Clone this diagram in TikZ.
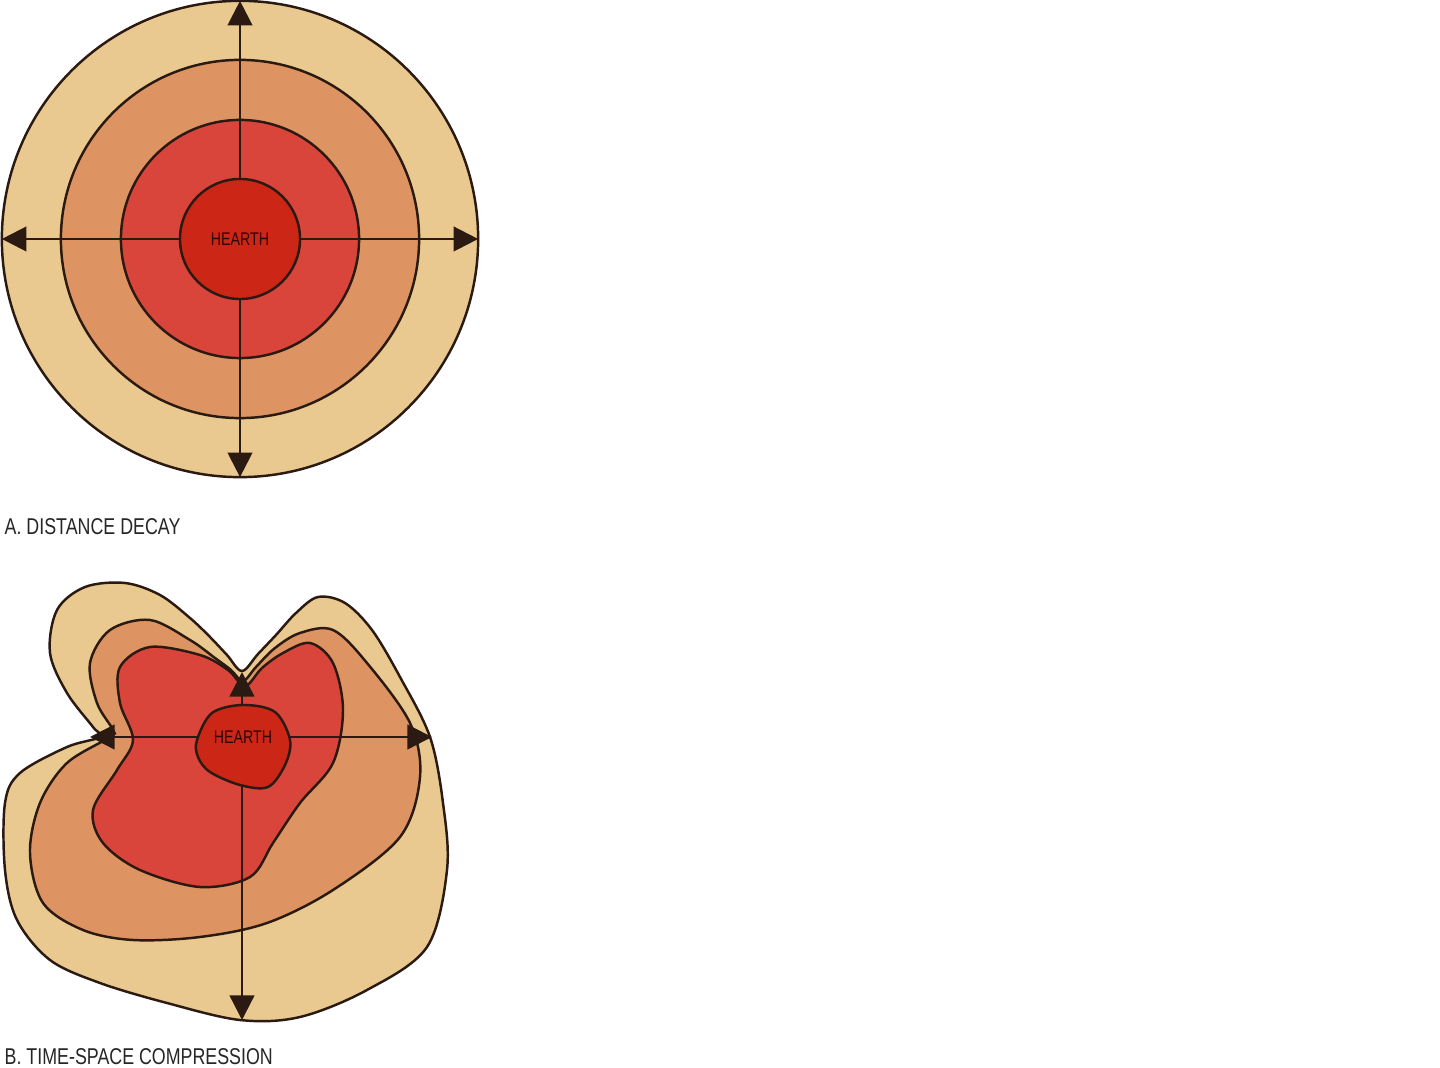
\documentclass[tikz,border=0pt]{standalone}
\usepackage{fontspec}
\newfontfamily\capfont[FakeStretch=0.78]{Liberation Sans}
\usetikzlibrary{arrows.meta}
\definecolor{zoneA}{HTML}{E9C98F}
\definecolor{zoneB}{HTML}{DE9462}
\definecolor{zoneC}{HTML}{D9443B}
\definecolor{hearthcol}{HTML}{CC2716}
\definecolor{inkcol}{HTML}{2A1A12}
\begin{document}
\begin{tikzpicture}[x=0.01cm,y=-0.01cm,
  ring/.style={circle,draw=inkcol,line width=0.7pt,inner sep=0pt,outer sep=0pt},
  zone/.style={draw=inkcol,line width=0.7pt,smooth cycle,tension=0.55},
  arr/.style={draw=inkcol,line width=0.7pt,-{Triangle[length=7pt,width=7pt]}},
  caption/.style={anchor=base west,inner sep=0pt,text=black!85,font=\capfont\fontsize{6.5}{7}\selectfont},
  htext/.style={inner sep=0pt,text=black!80!red,font=\capfont\fontsize{5.2}{6}\selectfont}]
\useasboundingbox[fill=white] (0,0) rectangle (1440,1068);

% A. distance decay
\coordinate (a0) at (240,239);
\node[ring,fill=zoneA,minimum size=4.76cm] (r3) at (a0) {};
\node[ring,fill=zoneB,minimum size=3.58cm] (r2) at (a0) {};
\node[ring,fill=zoneC,minimum size=2.38cm] (r1) at (a0) {};
\draw[arr] (a0) -- (r3.north);
\draw[arr] (a0) -- (r3.south);
\draw[arr] (a0) -- (r3.west);
\draw[arr] (a0) -- (r3.east);
\node[ring,fill=hearthcol,minimum size=1.2cm] (h1) at (a0) {};
\node[htext] (t1) at (a0) {HEARTH};
\node[caption] (capA) at (4,535) {A. DISTANCE DECAY};

% B. time-space compression
\fill[zoneA,zone] plot coordinates {(242,671) (258,654) (276,635) (296,613) (318,597) (345,603) (372,630) (400,677) (430,737) (443,803) (447,870) (427,947) (367,990) (300,1017) (240,1020) (167,1003) (100,983) (50,960) (17,920) (5,870) (5,803) (20,773) (67,747) (100,737) (93,727) (67,693) (50,653) (57,610) (85,587) (125,583) (160,595) (190,618) (210,637) (227,655)};
\fill[zoneB,zone] plot coordinates {(243,681) (256,667) (275,648) (300,633) (333,630) (367,663) (410,723) (420,777) (400,837) (333,890) (267,923) (200,937) (133,940) (83,930) (43,903) (30,853) (40,803) (67,763) (110,737) (113,730) (97,703) (90,663) (110,630) (150,620) (190,640) (215,658) (231,670)};
\fill[zoneC,zone] plot coordinates {(245,686) (262,668) (283,653) (310,643) (333,663) (343,710) (333,763) (300,803) (273,843) (250,877) (200,887) (140,870) (103,843) (93,810) (117,770) (133,740) (120,703) (120,667) (150,647) (200,655) (228,670)};
\coordinate (b0) at (243,737);
\coordinate (hT) at (242,706);
\coordinate (hB) at (242,786);
\coordinate (bT) at (242,672);
\coordinate (bB) at (242,1020);
\coordinate (bL) at (90,737);
\coordinate (bR) at (432,737);
\draw[arr] (hT) -- (bT);
\draw[arr] (hB) -- (bB);
\draw[arr] (b0) -- (bL);
\draw[arr] (b0) -- (bR);
\fill[hearthcol,zone] plot coordinates {(197,740) (212,713) (243,705) (275,712) (290,740) (285,765) (268,787) (240,785) (210,772) (198,757)};
\node[htext] (t2) at (b0) {HEARTH};
\node[caption] (capB) at (4,1064) {B. TIME-SPACE COMPRESSION};
\end{tikzpicture}
\end{document}
